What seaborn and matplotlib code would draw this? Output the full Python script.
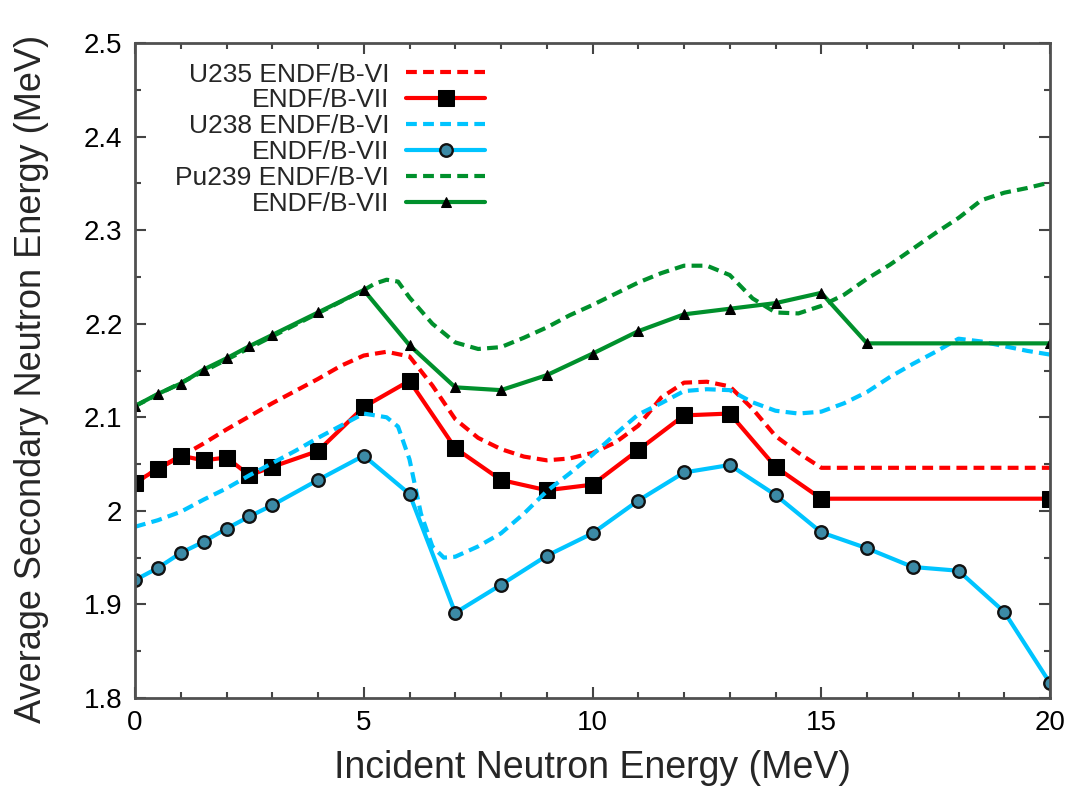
import matplotlib
matplotlib.use("Agg")
import matplotlib.pyplot as plt
import seaborn as sns
import pandas as pd
from matplotlib.ticker import MultipleLocator

# ---------------- data ----------------
u235_vi_x = [0, 0.5, 1, 1.5, 2, 2.5, 3, 3.5, 4, 4.5, 5, 5.5, 6, 6.5, 7, 7.5, 8, 8.5, 9, 9.5,
             10, 10.5, 11, 11.5, 12, 12.5, 13, 13.5, 14, 14.5, 15, 20]
u235_vi_y = [2.030, 2.045, 2.058, 2.072, 2.087, 2.101, 2.115, 2.128, 2.141, 2.155, 2.166, 2.170,
             2.165, 2.134, 2.098, 2.078, 2.066, 2.058, 2.054, 2.056, 2.062, 2.073, 2.091, 2.121,
             2.137, 2.138, 2.133, 2.109, 2.080, 2.062, 2.046, 2.046]

u235_vii_x = [0, 0.5, 1, 1.5, 2, 2.5, 3, 4, 5, 6, 7, 8, 9, 10, 11, 12, 13, 14, 15, 20]
u235_vii_y = [2.030, 2.045, 2.059, 2.054, 2.057, 2.038, 2.047, 2.064, 2.111, 2.139, 2.067, 2.033,
              2.022, 2.028, 2.065, 2.102, 2.104, 2.047, 2.013, 2.013]

u238_vi_x = [0, 0.5, 1, 1.5, 2, 2.5, 3, 3.5, 4, 4.5, 5, 5.5, 5.75, 6, 6.25, 6.5, 6.75, 7, 7.5, 8,
             8.5, 9, 9.5, 10, 10.5, 11, 11.5, 12, 12.5, 13, 13.5, 14, 14.5, 15, 15.5, 16, 16.5,
             17, 17.5, 18, 18.5, 19, 19.5, 20]
u238_vi_y = [1.983, 1.990, 1.999, 2.012, 2.024, 2.038, 2.051, 2.064, 2.078, 2.091, 2.104, 2.100,
             2.090, 2.055, 1.997, 1.962, 1.950, 1.951, 1.962, 1.976, 1.997, 2.021, 2.040, 2.060,
             2.082, 2.103, 2.115, 2.128, 2.130, 2.129, 2.116, 2.107, 2.104, 2.106, 2.115, 2.127,
             2.143, 2.157, 2.170, 2.184, 2.181, 2.176, 2.171, 2.167]

u238_vii_x = [0, 0.5, 1, 1.5, 2, 2.5, 3, 4, 5, 6, 7, 8, 9, 10, 11, 12, 13, 14, 15, 16, 17, 18, 19, 20]
u238_vii_y = [1.926, 1.939, 1.955, 1.967, 1.981, 1.994, 2.006, 2.033, 2.059, 2.018, 1.891, 1.921,
              1.952, 1.976, 2.011, 2.041, 2.049, 2.017, 1.977, 1.960, 1.940, 1.936, 1.892, 1.816]

pu239_vi_x = [0, 5, 5.25, 5.5, 5.75, 6, 6.5, 7, 7.5, 8, 8.5, 9, 9.5, 10, 10.5, 11, 11.5, 12, 12.5,
              13, 13.5, 14, 14.5, 15, 15.5, 16, 16.5, 17, 17.5, 18, 18.5, 19, 19.5, 20]
pu239_vi_y = [2.112, 2.236, 2.243, 2.247, 2.245, 2.228, 2.200, 2.180, 2.173, 2.175, 2.185, 2.196,
              2.209, 2.220, 2.232, 2.244, 2.254, 2.262, 2.262, 2.252, 2.227, 2.212, 2.211, 2.219,
              2.231, 2.248, 2.263, 2.280, 2.297, 2.313, 2.332, 2.340, 2.345, 2.351]

pu239_vii_x = [0, 0.5, 1, 1.5, 2, 2.5, 3, 4, 5, 6, 7, 8, 9, 10, 11, 12, 13, 14, 15, 16, 20]
pu239_vii_y = [2.112, 2.125, 2.136, 2.151, 2.163, 2.176, 2.188, 2.212, 2.236, 2.177, 2.132, 2.129,
               2.145, 2.168, 2.192, 2.210, 2.216, 2.222, 2.233, 2.179, 2.179]

legend_labels = ["U235 ENDF/B-VI", "ENDF/B-VII", "U238 ENDF/B-VI", "ENDF/B-VII",
                 "Pu239 ENDF/B-VI", "ENDF/B-VII"]
x_ticks = [0, 5, 10, 15, 20]
y_ticks = [1.8, 1.9, 2.0, 2.1, 2.2, 2.3, 2.4, 2.5]
y_tick_labels = ["1.8", "1.9", "2", "2.1", "2.2", "2.3", "2.4", "2.5"]
x_label = "Incident Neutron Energy (MeV)"
y_label = "Average Secondary Neutron Energy (MeV)"

# ---------------- style ----------------
sns.set_theme(style="white")
plt.rcParams["font.family"] = ["Liberation Sans", "DejaVu Sans"]

RED = "#ff0000"
CYAN = "#00c4ff"
GREEN = "#00902c"
DASH = (0, (2.6, 1.5))
LW = 3.0

fig = plt.figure(figsize=(10.72, 7.95), dpi=100)
ax = fig.add_axes([135 / 1072, 1 - 698 / 795, 915 / 1072, 655 / 795])

series = [
    (u235_vi_x, u235_vi_y, dict(color=RED, linestyle=DASH)),
    (u235_vii_x, u235_vii_y, dict(color=RED, linestyle="-", marker="s", markersize=12,
                                   markerfacecolor="black", markeredgecolor="black")),
    (u238_vi_x, u238_vi_y, dict(color=CYAN, linestyle=DASH)),
    (u238_vii_x, u238_vii_y, dict(color=CYAN, linestyle="-", marker="o", markersize=9,
                                   markerfacecolor="#3c8aa6", markeredgecolor="#111111",
                                   markeredgewidth=1.7)),
    (pu239_vi_x, pu239_vi_y, dict(color=GREEN, linestyle=DASH)),
    (pu239_vii_x, pu239_vii_y, dict(color=GREEN, linestyle="-", marker="^", markersize=7.5,
                                     markerfacecolor="black", markeredgecolor="black")),
]

handles = []
for (xs, ys, kw), lab in zip(series, legend_labels):
    df = pd.DataFrame({"x": xs, "y": ys})
    sns.lineplot(data=df, x="x", y="y", ax=ax, sort=False, linewidth=LW, label=lab, **kw)
    handles.append(ax.get_lines()[-1])

ax.set_xlim(0, 20)
ax.set_ylim(1.8, 2.5)
ax.set_xticks(x_ticks)
ax.set_xticklabels([str(t) for t in x_ticks])
ax.set_yticks(y_ticks)
ax.set_yticklabels(y_tick_labels)
ax.xaxis.set_minor_locator(MultipleLocator(1))
ax.yaxis.set_minor_locator(MultipleLocator(0.05))
ax.tick_params(which="both", direction="in", top=True, right=True, bottom=True, left=True,
               colors="#444444", labelcolor="black")
ax.tick_params(which="major", length=8, width=1.5, labelsize=20, pad=9)
ax.tick_params(which="minor", length=4, width=1.5)
for s in ax.spines.values():
    s.set_color("#505050")
    s.set_linewidth(2)

ax.set_xlabel(x_label, fontsize=27, labelpad=10)
ax.set_ylabel(y_label, fontsize=26)
ax.yaxis.set_label_coords(-0.094, 0.487)

leg = ax.legend(handles, legend_labels, loc="upper right", bbox_to_anchor=(0.383, 0.970),
                markerfirst=False, frameon=False, fontsize=19, handlelength=3.0,
                handletextpad=0.65, labelspacing=0.07, borderpad=0, borderaxespad=0)

fig.savefig("out.png", dpi=100)
